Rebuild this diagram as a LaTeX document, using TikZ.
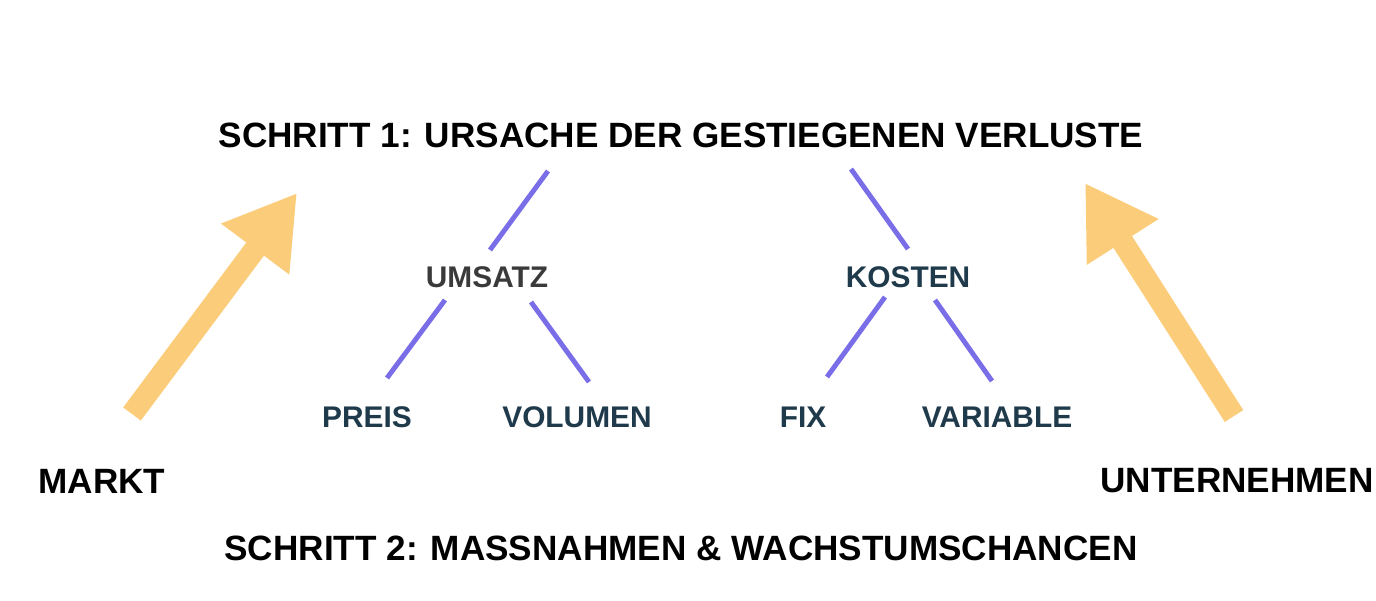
\documentclass[tikz,border=0pt]{standalone}
\usepackage{fontspec}
\setmainfont{Liberation Sans}
\usetikzlibrary{arrows.meta}
\definecolor{cline}{HTML}{7A6EE8}
\definecolor{carrow}{HTML}{FBCD7A}
\definecolor{cteal}{HTML}{1F3A4B}
\definecolor{cgray}{HTML}{3A3A3A}
\tikzset{
  headline/.style={font=\bfseries\fontsize{20}{24}\selectfont, text=black},
  branch/.style={font=\bfseries\fontsize{17}{20}\selectfont, text=cteal},
  link/.style={draw=cline, line width=2.8pt},
  bigarrow/.style={draw=carrow, line width=0.44cm, -{Triangle[length=1.4cm, width=1.6cm]}}
}
\begin{document}
\begin{tikzpicture}[x=0.02cm, y=-0.02cm]

\useasboundingbox (0,0) rectangle (1376,601);

\node[headline] (step1) at (681,135) {SCHRITT 1: URSACHE DER GESTIEGENEN VERLUSTE};
\node[headline] (step2) at (681,548) {SCHRITT 2: MASSNAHMEN \& WACHSTUMSCHANCEN};
\node[headline] (markt) at (102,481) {MARKT};
\node[headline] (firma) at (1237,481) {UNTERNEHMEN};

\node[branch, text=cgray] (umsatz) at (487,277) {UMSATZ};
\node[branch] (kosten) at (908,277) {KOSTEN};
\node[branch] (preis) at (367,417) {PREIS};
\node[branch] (volumen) at (577,417) {VOLUMEN};
\node[branch] (fix) at (803,417) {FIX};
\node[branch] (variabel) at (997,417) {VARIABLE};

% ends of the branch lines
\coordinate (s1l) at (548,171);
\coordinate (s1r) at (851,169);
\coordinate (umt) at (490,250);
\coordinate (kot) at (908,249);
\coordinate (uml) at (445,300);
\coordinate (umr) at (531,302);
\coordinate (kol) at (885,297);
\coordinate (kor) at (935,300);
\coordinate (prt) at (387,378);
\coordinate (vot) at (589,382);
\coordinate (fit) at (827,377);
\coordinate (vat) at (992,381);

\draw[link] (s1l) -- (umt);
\draw[link] (s1r) -- (kot);
\draw[link] (uml) -- (prt);
\draw[link] (umr) -- (vot);
\draw[link] (kol) -- (fit);
\draw[link] (kor) -- (vat);

% big arrows
\coordinate (mfoot) at (132,414);
\coordinate (mtip) at (297,193);
\coordinate (ffoot) at (1234,416);
\coordinate (ftip) at (1085,183);
\draw[bigarrow] (mfoot) -- (mtip);
\draw[bigarrow] (ffoot) -- (ftip);

\end{tikzpicture}
\end{document}
